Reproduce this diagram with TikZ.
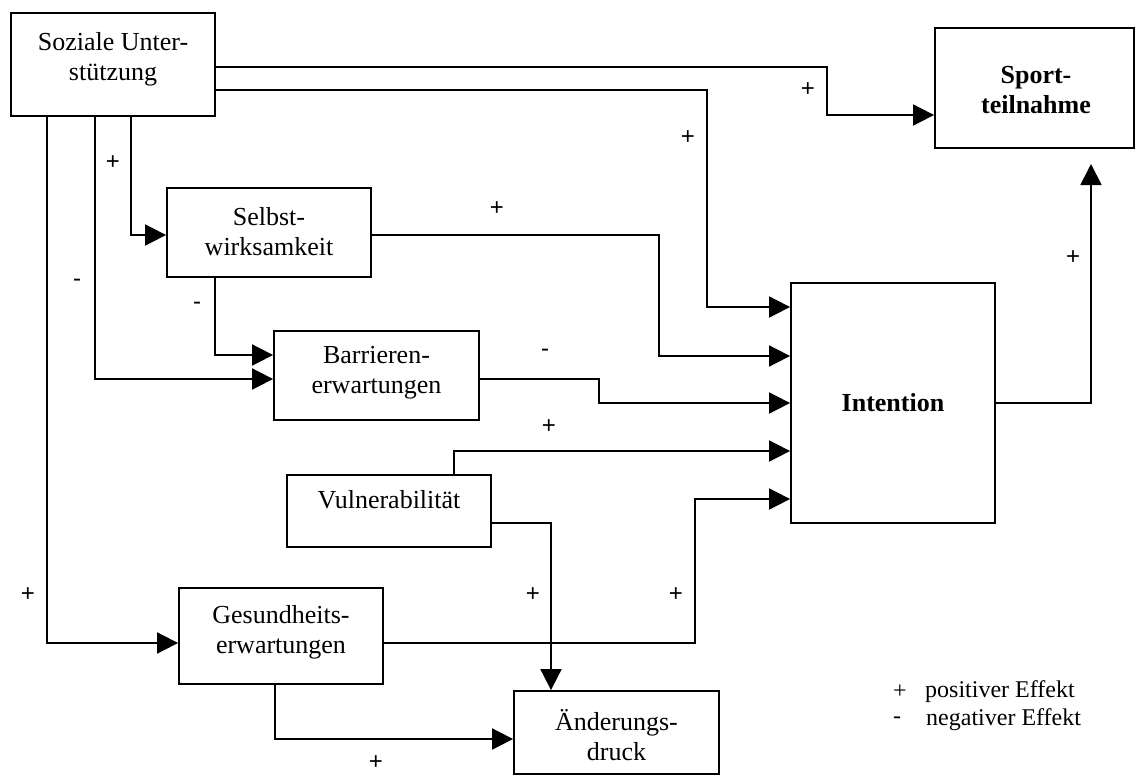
\documentclass[tikz,border=0pt]{standalone}
\usepackage{fontspec}
\setmainfont{Liberation Serif}
\newfontfamily\signfont{Liberation Sans}
\usetikzlibrary{arrows.meta}

\tikzset{
  box/.style={draw, line width=1.8pt, rectangle, inner sep=0pt},
  boxtext/.style={align=center, font=\fontsize{26}{30}\selectfont},
  boldtext/.style={align=center, font=\fontsize{26}{30}\selectfont\bfseries},
  link/.style={line width=1.8pt, -{Triangle[length=21pt,width=21pt]}},
  sign/.style={font=\signfont\fontsize{24}{26}\selectfont, inner sep=0pt},
  legendtext/.style={font=\fontsize{24}{28}\selectfont, inner sep=0pt}
}

\begin{document}
\begin{tikzpicture}[x=1pt, y=-1pt]
\useasboundingbox (0,0) rectangle (1136,776);

% boxes
\node[box, minimum width=204pt, minimum height=103pt] (soz)    at (113,64.5)   {};
\node[box, minimum width=199pt, minimum height=120pt] (sport)  at (1034.5,88)  {};
\node[box, minimum width=204pt, minimum height=89pt]  (selbst) at (269,232.5)  {};
\node[box, minimum width=205pt, minimum height=89pt]  (barr)   at (376.5,375.5){};
\node[box, minimum width=204pt, minimum height=240pt] (intent) at (893,403)    {};
\node[box, minimum width=204pt, minimum height=72pt]  (vuln)   at (389,511)    {};
\node[box, minimum width=204pt, minimum height=96pt]  (gesund) at (281,636)    {};
\node[box, minimum width=205pt, minimum height=83pt]  (aend)   at (616.5,732.5){};

% box texts
\node[boxtext]  (soz-t)    at (113,59)   {Soziale Unter-\\stützung};
\node[boldtext] (sport-t)  at (1036,90)  {Sport-\\teilnahme};
\node[boxtext]  (selbst-t) at (269,232)  {Selbst-\\wirksamkeit};
\node[boxtext]  (barr-t)   at (376.5,373){Barrieren-\\erwartungen};
\node[boldtext] (intent-t) at (893,403)  {Intention};
\node[boxtext]  (vuln-t)   at (389,500)  {Vulnerabilität};
\node[boxtext]  (gesund-t) at (281,632)  {Gesundheits-\\erwartungen};
\node[boxtext]  (aend-t)   at (616.5,735){Änderungs-\\druck};

% free end of the arrow towards Sportteilnahme
\coordinate (sportgap) at (1091,164);

% connectors
\draw[link] (soz.east |- 0,67) -| (827,115) -- (sport.west |- 0,115);
\draw[link] (soz.east |- 0,90) -| (707,307) -- (intent.west |- 0,307);
\draw[link] (soz.south -| 131,0) |- (selbst.west |- 0,235);
\draw[link] (soz.south -| 95,0) |- (barr.west |- 0,379);
\draw[link] (soz.south -| 47,0) |- (gesund.west |- 0,643);
\draw[link] (selbst.east |- 0,235) -| (659,356) -- (intent.west |- 0,356);
\draw[link] (selbst.south -| 215,0) |- (barr.west |- 0,355);
\draw[link] (barr.east |- 0,379) -| (599,403) -- (intent.west |- 0,403);
\draw[link] (vuln.north -| 454,0) |- (intent.west |- 0,451);
\draw[link] (vuln.east |- 0,523) -| (aend.north -| 551,0);
\draw[link] (gesund.east |- 0,643) -| (695,499) -- (intent.west |- 0,499);
\draw[link] (gesund.south -| 275,0) |- (aend.west |- 0,739);
\draw[link] (intent.east |- 0,403) -| (sportgap);

% effect signs
\node[sign] (s1)  at (113,163) {+};
\node[sign] (s2)  at (77,283)  {-};
\node[sign] (s3)  at (197,306) {-};
\node[sign] (s4)  at (688,138) {+};
\node[sign] (s5)  at (497,209) {+};
\node[sign] (s6)  at (808,90)  {+};
\node[sign] (s7)  at (1073,258){+};
\node[sign] (s8)  at (545,353) {-};
\node[sign] (s9)  at (549,427) {+};
\node[sign] (s10) at (28,595)  {+};
\node[sign] (s11) at (533,595) {+};
\node[sign] (s12) at (676,595) {+};
\node[sign] (s13) at (376,763) {+};

% legend
\node[legendtext] (lp)  at (900,692) {+};
\node[legendtext, anchor=west] (lpt) at (925,692) {\strut positiver Effekt};
\node[legendtext] (ln)  at (897,720) {-};
\node[legendtext, anchor=west] (lnt) at (926,720) {\strut negativer Effekt};
\end{tikzpicture}
\end{document}
